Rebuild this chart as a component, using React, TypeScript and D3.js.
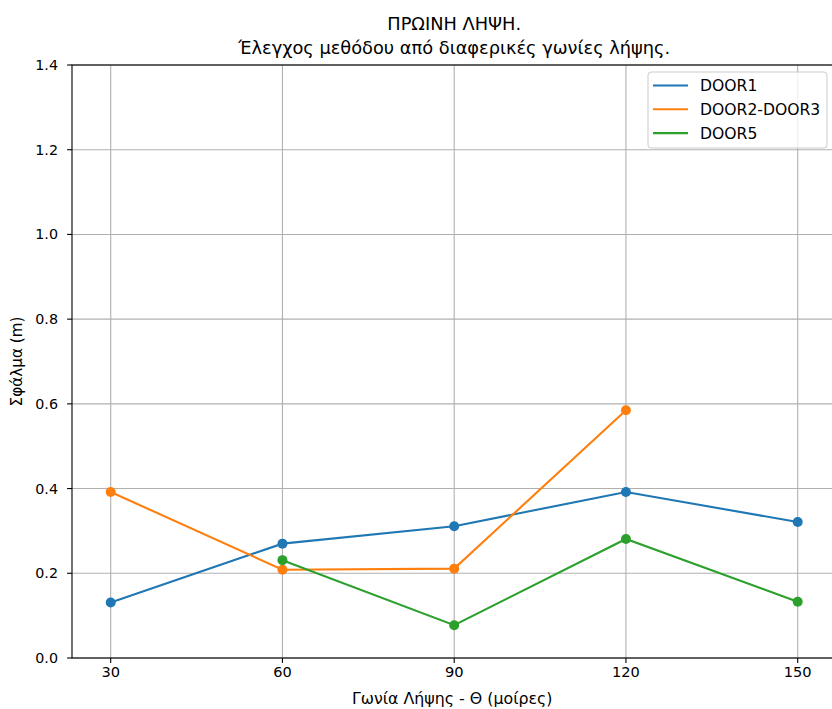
import * as React from "react";
import * as d3 from "d3";

const angles = [30, 60, 90, 120, 150];
const door1 = [0.131, 0.27, 0.311, 0.392, 0.321];
const door23 = [0.392, 0.2085, 0.211, 0.585, null];
const door5 = [null, 0.231, 0.0775, 0.281, 0.133];
const seriesNames = ["DOOR1", "DOOR2-DOOR3", "DOOR5"];
const seriesColors = ["#1f77b4", "#ff7f0e", "#2ca02c"];
const yTickValues = [0, 0.2, 0.4, 0.6, 0.8, 1.0, 1.2, 1.4];

type Pt = { x: number; y: number };

function App() {
  const width = 832;
  const height = 709;
  // the axes run a little past the right edge of the picture (cropped)
  const margin = { left: 72, right: -4.4, top: 65, bottom: 51 };
  const bw = width - margin.left - margin.right;
  const bh = height - margin.top - margin.bottom;

  const xScale = d3.scaleLinear().domain([23.24, 156.76]).range([0, bw]);
  const yScale = d3.scaleLinear().domain([0, 1.4]).range([bh, 0]);

  const allSeries = [door1, door23, door5].map((vals) =>
    angles
      .map((a, i) => ({ x: a, y: vals[i] }))
      .filter((d) => d.y !== null) as Pt[]
  );

  const lineGen = d3
    .line<Pt>()
    .x((d) => xScale(d.x))
    .y((d) => yScale(d.y));

  const font = "DejaVu Sans, sans-serif";
  const cx = margin.left + bw / 2;

  return (
    <svg
      width={width}
      height={height}
      style={{ position: "absolute", left: 0, top: 0, background: "white" }}
      fontFamily={font}
    >
      {/* title */}
      <text x={cx} y={30} textAnchor="middle" fontSize={17.8} fill="black">
        ΠΡΩΙΝΗ ΛΗΨΗ.
      </text>
      <text x={cx} y={54} textAnchor="middle" fontSize={17.8} fill="black">
        Έλεγχος μεθόδου από διαφερικές γωνίες λήψης.
      </text>

      <g transform={`translate(${margin.left}, ${margin.top})`}>
        {/* grid */}
        {angles.map((t) => (
          <line key={"gx" + t} x1={xScale(t)} x2={xScale(t)} y1={0} y2={bh} stroke="#b0b0b0" strokeWidth={1.1} />
        ))}
        {yTickValues.map((t) => (
          <line key={"gy" + t} x1={0} x2={bw} y1={yScale(t)} y2={yScale(t)} stroke="#b0b0b0" strokeWidth={1.1} />
        ))}

        {/* data */}
        {allSeries.map((pts, i) => (
          <g key={i}>
            <path d={lineGen(pts) ?? ""} fill="none" stroke={seriesColors[i]} strokeWidth={2.1} />
            {pts.map((p, j) => (
              <circle key={j} cx={xScale(p.x)} cy={yScale(p.y)} r={5} fill={seriesColors[i]} />
            ))}
          </g>
        ))}

        {/* frame */}
        <rect x={0} y={0} width={bw} height={bh} fill="none" stroke="black" strokeWidth={1.1} />

        {/* x axis */}
        <g fontSize={14.6} textAnchor="middle" transform={`translate(0, ${bh})`}>
          {angles.map((t) => (
            <g key={t} transform={`translate(${xScale(t)}, 0)`}>
              <line y2={4.9} stroke="black" strokeWidth={1.1} />
              <text y={9} dy="0.71em" fill="black">
                {t}
              </text>
            </g>
          ))}
        </g>
        {/* y axis */}
        <g fontSize={14.3} textAnchor="end">
          {yTickValues.map((t) => (
            <g key={t} transform={`translate(0, ${yScale(t)})`}>
              <line x2={-4.9} stroke="black" strokeWidth={1.1} />
              <text x={-14} dy="0.35em" fill="black">
                {t.toFixed(1)}
              </text>
            </g>
          ))}
        </g>

        {/* legend */}
        <g transform={`translate(${648 - margin.left}, ${72 - margin.top})`}>
          <rect x={0} y={0} width={179} height={76} rx={3} fill="white" fillOpacity={0.8} stroke="#cccccc" strokeWidth={1} />
          {seriesNames.map((name, i) => (
            <g key={name} transform={`translate(0, ${13.5 + i * 23.8})`}>
              <line x1={5} x2={40} stroke={seriesColors[i]} strokeWidth={2.1} />
              <text x={52} dy="0.35em" fontSize={15.6} fill="black">
                {name}
              </text>
            </g>
          ))}
        </g>
      </g>

      {/* axis labels */}
      <text x={cx - 2} y={704} textAnchor="middle" fontSize={15.8} fill="black">
        Γωνία Λήψης - Θ (μοίρες)
      </text>
      <text
        transform={`translate(22, ${margin.top + bh / 2}) rotate(-90)`}
        textAnchor="middle"
        fontSize={15.2}
        fill="black"
      >
        Σφάλμα (m)
      </text>
    </svg>
  );
}

export default App;
